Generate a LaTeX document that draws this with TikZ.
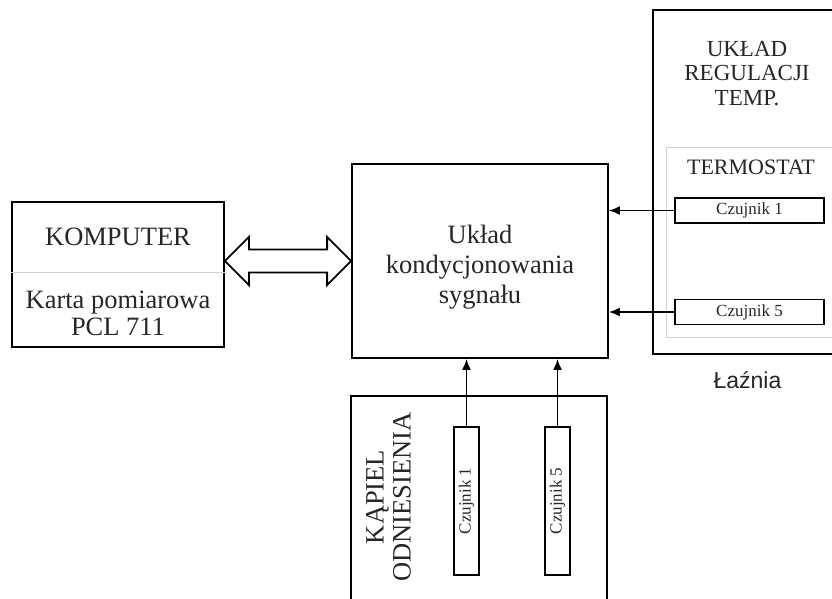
\documentclass[tikz,border=0pt]{standalone}
\usepackage{fontspec}
\setmainfont{Liberation Serif}
\newfontfamily\sansf{Liberation Sans}
\usetikzlibrary{calc,arrows.meta}
\begin{document}
\begin{tikzpicture}[x=1pt,y=-1pt,
  box/.style={draw, line width=1.8pt, inner sep=0pt},
  sens/.style={draw, line width=1.8pt, inner sep=0pt},
  senstext/.style={font=\fontsize{17}{20}\selectfont, inner sep=0pt, text=black!85},
  big/.style={font=\fontsize{26.5}{30}\selectfont, align=center, inner sep=0pt, text=black!85},
  mid/.style={font=\fontsize{23}{24.5}\selectfont, align=center, inner sep=0pt, text=black!85},
  arr/.style={line width=1.8pt, -{Latex[length=11pt,width=9pt]}},
  thinline/.style={draw=gray!35, line width=0.9pt},
  outline/.style={line width=1.8pt},
]
\useasboundingbox (0,0) rectangle (832,599);

% Komputer
\node[box, minimum width=212pt, minimum height=145pt] (komp) at (118,274.5) {};
\coordinate (dv) at (0,272);
\draw[thinline] (komp.west |- dv) -- (komp.east |- dv);
\node[big] (kt) at (118,237) {KOMPUTER};
\node[big, font=\fontsize{26.5}{27}\selectfont] (kk) at (118,313.5) {Karta pomiarowa\\PCL 711};

% Center
\node[box, minimum width=256pt, minimum height=194pt] (c) at (480,261) {};
\node[big] (ct) at (480,267) {Układ\\kondycjonowania\\sygnału};

% Double arrow
\coordinate (L) at (komp.east |- c.west);
\coordinate (R) at (c.west);
\draw[outline, line join=miter] (L) -- ($(L)+(24,-24)$) -- ($(L)+(24,-11.5)$) -- ($(R)+(-24,-11.5)$)
  -- ($(R)+(-24,-24)$) -- (R) -- ($(R)+(-24,24)$) -- ($(R)+(-24,11.5)$)
  -- ($(L)+(24,11.5)$) -- ($(L)+(24,24)$) -- cycle;

% Right box (Laznia)
\draw[outline] (834,10) -- (653,10) -- (653,354) -- (834,354);
\draw[thinline] (834,147) -- (666,147) -- (666,337) -- (834,337);
\node[mid] (ur) at (747,73.5) {UKŁAD\\REGULACJI\\TEMP.};
\node[mid, font=\fontsize{22}{24}\selectfont] (term) at (751,167) {TERMOSTAT};
\node[sens, minimum width=149pt, minimum height=25pt] (r1) at (749.5,210.5) {};
\node[senstext] at (r1) {Czujnik 1};
\node[sens, minimum width=149pt, minimum height=25pt] (r5) at (749.5,312) {};
\node[senstext] at (r5) {Czujnik 5};
\node[font=\sansf\fontsize{23}{26}\selectfont, inner sep=0pt, text=black!85] (laz) at (747.5,380) {Łaźnia};
\draw[arr] (r1.west) -- (r1.west -| c.east);
\draw[arr] (r5.west) -- (r5.west -| c.east);

% Bottom box (Kapiel)
\draw[outline] (351,602) -- (351,396) -- (607,396) -- (607,602);
\node[big, rotate=90, font=\fontsize{26.5}{27}\selectfont] (kap) at (388.5,497) {KĄPIEL\\ODNIESIENIA};
\node[sens, minimum width=25pt, minimum height=148pt] (b1) at (466.5,501) {};
\node[senstext, rotate=90] at (b1) {Czujnik 1};
\node[sens, minimum width=25pt, minimum height=148pt] (b5) at (557.5,501) {};
\node[senstext, rotate=90] at (b5) {Czujnik 5};
\draw[arr] (b1.north) -- (b1.north |- c.south);
\draw[arr] (b5.north) -- (b5.north |- c.south);
\end{tikzpicture}
\end{document}
